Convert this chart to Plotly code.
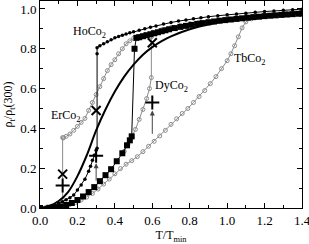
import plotly.graph_objects as go

# ---------------- data ----------------
tb_T = [0.00,0.05,0.10,0.13,0.16,0.19,0.22,0.25,0.28,0.31,0.34,0.37,0.40,0.43,0.46,0.49,0.52,0.55,0.58,0.61,0.64,0.67,0.70,0.73,0.76,0.79,0.82,0.85,0.88,0.91,0.94,0.97,1.00,1.02,1.04,1.06,1.08,1.10,1.13,1.16,1.20,1.24,1.28,1.32,1.36,1.40]
tb_r = [0.000,0.001,0.005,0.010,0.018,0.028,0.040,0.055,0.073,0.095,0.120,0.145,0.172,0.198,0.220,0.238,0.258,0.283,0.310,0.335,0.362,0.390,0.420,0.448,0.475,0.500,0.530,0.560,0.590,0.625,0.660,0.700,0.740,0.775,0.815,0.860,0.905,0.935,0.950,0.958,0.965,0.970,0.974,0.977,0.980,0.982]

er_T = [0.00,0.03,0.06,0.09,0.121,0.121,0.125,0.14,0.16,0.18,0.20,0.22,0.24,0.26,0.28,0.30,0.32,0.34,0.36,0.38,0.40,0.42,0.44,0.46,0.48,0.50,0.53,0.56,0.60,0.65,0.70,0.75,0.80,0.85,0.90,0.95,1.00,1.05,1.10,1.15,1.20,1.25,1.30,1.35,1.40]
er_r = [0.000,0.002,0.008,0.020,0.040,0.354,0.352,0.360,0.372,0.390,0.410,0.430,0.450,0.490,0.530,0.570,0.610,0.650,0.690,0.720,0.745,0.775,0.800,0.825,0.840,0.852,0.862,0.872,0.883,0.895,0.907,0.917,0.926,0.934,0.941,0.947,0.953,0.958,0.963,0.968,0.972,0.976,0.979,0.982,0.985]

dyg_T = [0.45,0.47,0.49,0.51,0.53,0.55,0.57,0.585,0.595,0.595,0.62,0.66,0.70,0.75,0.80,0.90,1.00,1.10,1.20,1.30,1.40]
dyg_r = [0.285,0.320,0.355,0.395,0.445,0.495,0.550,0.600,0.655,0.860,0.875,0.888,0.900,0.912,0.922,0.938,0.950,0.960,0.968,0.975,0.981]

dys_T = [0.00,0.05,0.08,0.11,0.14,0.17,0.20,0.23,0.26,0.29,0.32,0.35,0.38,0.41,0.44,0.465,0.48,0.49,
         0.505,0.515,0.53,0.55,0.57,0.59,0.61,0.63,0.65,0.67,0.69,0.72,0.75,0.78,0.81,0.84,0.87,0.90,0.93,0.96,0.99,1.02,1.05,1.08,1.11,1.14,1.17,1.20,1.23,1.26,1.29,1.32,1.35,1.38,1.40]
dys_r = [0.000,0.001,0.004,0.008,0.015,0.025,0.040,0.058,0.080,0.105,0.135,0.165,0.195,0.235,0.275,0.315,0.340,0.360,
         0.800,0.855,0.858,0.863,0.868,0.873,0.878,0.883,0.888,0.893,0.898,0.904,0.910,0.915,0.920,0.925,0.929,0.933,0.937,0.941,0.944,0.947,0.950,0.953,0.956,0.959,0.961,0.964,0.966,0.968,0.970,0.972,0.974,0.976,0.977]

ho_T = [0.00,0.04,0.07,0.10,0.12,0.14,0.16,0.18,0.20,0.22,0.24,0.26,0.27,0.28,0.29,0.30,0.305,
        0.305,0.305,0.32,0.34,0.36,0.38,0.40,0.42,0.44,0.46,0.48,0.50,0.53,0.56,0.59,0.62,0.66,0.70,0.74,0.78,0.82,0.86,0.90,0.95,1.00,1.05,1.10,1.15,1.20,1.25,1.30,1.35,1.40]
ho_r = [0.000,0.002,0.010,0.022,0.032,0.042,0.052,0.065,0.090,0.115,0.145,0.185,0.210,0.240,0.265,0.290,0.300,
        0.775,0.805,0.815,0.825,0.835,0.845,0.855,0.862,0.868,0.874,0.880,0.885,0.893,0.900,0.908,0.915,0.924,0.932,0.939,0.945,0.951,0.956,0.961,0.966,0.971,0.975,0.979,0.983,0.987,0.990,0.993,0.996,0.999]

calc_T = [0.00,0.05,0.10,0.15,0.20,0.25,0.30,0.35,0.40,0.45,0.50,0.55,0.60,0.65,0.70,0.80,0.90,1.00,1.10,1.20,1.30,1.40]
calc_r = [0.000,0.010,0.035,0.080,0.160,0.265,0.390,0.495,0.585,0.660,0.720,0.770,0.808,0.838,0.862,0.898,0.922,0.940,0.954,0.965,0.974,0.981]

mark_T = [0.121, 0.30, 0.60]
x_mark_r = [0.170, 0.490, 0.830]
plus_mark_r = [0.1125, 0.2625, 0.530]

arrow_T = [0.30, 0.60]
arrow_from = [0.130, 0.365]
arrow_to = [0.225, 0.490]

labels = ["HoCo<sub>2</sub>", "ErCo<sub>2</sub>", "DyCo<sub>2</sub>", "TbCo<sub>2</sub>"]
label_T = [0.262, 0.138, 0.70, 1.12]
label_r = [0.885, 0.460, 0.615, 0.750]

# ---------------- figure ----------------
SERIF = "Times New Roman, Liberation Serif, serif"
GRAY = "#8c8c8c"
fig = go.Figure()

fig.add_trace(go.Scatter(x=tb_T, y=tb_r, mode="lines+markers",
    line=dict(color=GRAY, width=1),
    marker=dict(symbol="circle-open", size=4, color=GRAY, line=dict(width=1))))
fig.add_trace(go.Scatter(x=er_T, y=er_r, mode="lines+markers",
    line=dict(color=GRAY, width=1),
    marker=dict(symbol="circle-open", size=4, color=GRAY, line=dict(width=1))))
fig.add_trace(go.Scatter(x=dyg_T, y=dyg_r, mode="lines+markers",
    line=dict(color=GRAY, width=1),
    marker=dict(symbol="circle-open", size=4, color=GRAY, line=dict(width=1))))
fig.add_trace(go.Scatter(x=calc_T, y=calc_r, mode="lines", line=dict(color="black", width=2, shape="spline")))
fig.add_trace(go.Scatter(x=dys_T, y=dys_r, mode="lines+markers",
    line=dict(color="black", width=1),
    marker=dict(symbol="square", size=6, color="black")))
fig.add_trace(go.Scatter(x=ho_T, y=ho_r, mode="lines+markers",
    line=dict(color="black", width=1),
    marker=dict(symbol="circle", size=3.5, color="black")))

fig.add_trace(go.Scatter(x=mark_T, y=x_mark_r, mode="markers",
    marker=dict(symbol="x-thin", size=9, line=dict(color="black", width=2))))
fig.add_trace(go.Scatter(x=mark_T, y=plus_mark_r, mode="markers",
    marker=dict(symbol="cross-thin", size=10, line=dict(color="black", width=2))))

for t, a, b in zip(arrow_T, arrow_from, arrow_to):
    fig.add_annotation(x=t, y=b, ax=t, ay=a, xref="x", yref="y", axref="x", ayref="y",
                       showarrow=True, arrowhead=2, arrowsize=1, arrowwidth=1,
                       arrowcolor="#444444", text="")

for txt, t, r in zip(labels, label_T, label_r):
    fig.add_annotation(x=t, y=r, text=txt, showarrow=False,
                       font=dict(family=SERIF, size=12, color="black"))

axis_common = dict(showline=True, linecolor="black", linewidth=1, mirror="ticks",
                   ticks="inside", ticklen=5, tickwidth=1, tickcolor="black",
                   showgrid=False, zeroline=False, tickformat=".1f",
                   automargin=False, ticklabeloverflow="allow",
                   tickfont=dict(family=SERIF, size=13, color="black"),
                   minor=dict(ticks="inside", ticklen=3, tickwidth=1, tickcolor="black", showgrid=False))

fig.update_layout(
    width=309, height=244,
    margin=dict(l=40, r=7, t=1, b=36),
    paper_bgcolor="white", plot_bgcolor="white",
    showlegend=False,
    font=dict(family=SERIF, size=13, color="black"),
    xaxis=dict(range=[0, 1.4], dtick=0.2, tick0=0,
               title=dict(text="T/T<sub>min</sub>", font=dict(family=SERIF, size=12), standoff=4),
               **axis_common),
    yaxis=dict(range=[0, 1.04], dtick=0.2, tick0=0,
               title=dict(text="ρ<sub>t</sub>/ρ<sub>t</sub>(300)", font=dict(family=SERIF, size=12), standoff=4),
               **axis_common),
)
fig.update_xaxes(minor_dtick=0.1)
fig.update_yaxes(minor_dtick=0.1)

fig.write_html("out.html", config={"displayModeBar": False},
               post_script="document.body.style.margin='0px';document.body.style.overflow='hidden';")
